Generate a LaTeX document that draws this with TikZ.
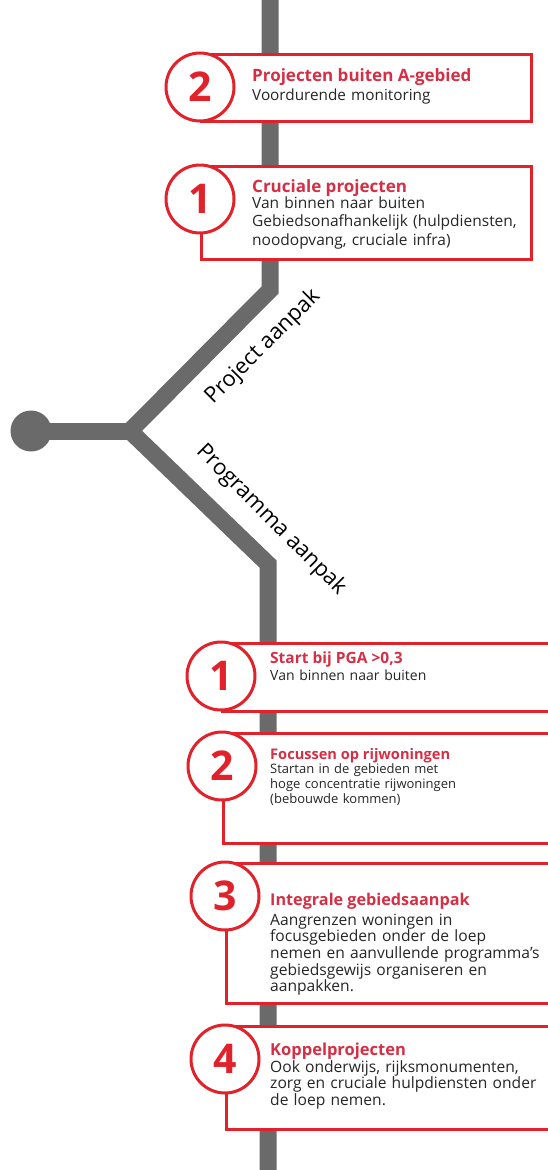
\documentclass[tikz,border=0pt]{standalone}
\usepackage{fontspec}
\setmainfont{Open Sans}
\usetikzlibrary{positioning, calc}
\definecolor{trackGray}{HTML}{6A6A6A}
\definecolor{boxRed}{HTML}{E2222B}
\definecolor{headRed}{HTML}{D62F45}
\definecolor{bodyInk}{HTML}{262626}

\begin{document}
\begin{tikzpicture}[x=1pt, y=-1pt,
track/.style={draw=trackGray, line width=17pt},
hub/.style={circle, fill=trackGray, minimum size=41pt, inner sep=0pt},
panel/.style={rectangle, draw=boxRed, line width=2.5pt, fill=white, anchor=north west, inner sep=0pt},
badge/.style={circle, draw=boxRed, line width=3pt, fill=white, minimum size=68pt, inner sep=0pt, text=boxRed, font=\bfseries\fontsize{41}{41}\selectfont},
head/.style={anchor=base west, inner sep=0pt, text=headRed, font=\bfseries\fontsize{#1}{#1}\selectfont},
body/.style 2 args={anchor=base west, inner sep=0pt, text=bodyInk, text width=290pt, align=left, font=\fontsize{#1}{#2}\selectfont},
lane/.style={inner sep=0pt, font=\fontsize{22}{22}\selectfont}
]
\useasboundingbox (0,0) rectangle (547,1170);

% track with the fork
\coordinate (top) at (270,-10);
\coordinate (bendA) at (270,290);
\coordinate (fork) at (130,431);
\coordinate (bendB) at (268,564);
\coordinate (bottom) at (268,1180);
\node[hub] (dot) at (31,431) {};
\draw[track] (top) -- (bendA) -- (fork) -- (bendB) -- (bottom);
\draw[track] (dot.center) -- (fork);

\node[lane, rotate=45] (lblP) at (263,347) {Project aanpak};
\node[lane, rotate=-45] (lblG) at (271,520) {Programma aanpak};

% project boxes
\node[panel, minimum width=330pt, minimum height=67pt] (boxA) at (200,53) {};
\node[badge] (nA) at ([yshift=-34pt]boxA.north west) {2};
\node[head=17] (hA) at (252,81) {Projecten buiten A-gebied};
\node[body={15.3}{18.3}] (bA) at (252,100) {Voordurende monitoring};

\node[panel, minimum width=330pt, minimum height=93pt] (boxB) at (200,165) {};
\node[badge] (nB) at ([yshift=-34pt]boxB.north west) {1};
\node[head=17] (hB) at (252,192) {Cruciale projecten};
\node[body={15.5}{18.5}] (bB) at (252,208) {Van binnen naar buiten\\Gebiedsonafhankelijk (hulpdiensten,\\noodopvang, cruciale infra)};

% programme boxes
\node[panel, minimum width=340pt, minimum height=68pt] (boxC) at (221,642) {};
\node[badge] (nC) at ([yshift=-34pt]boxC.north west) {1};
\node[head=15.5] (hC) at (270,663) {Start bij PGA >0,3};
\node[body={14}{17}] (bC) at (270,680) {Van binnen naar buiten};

\node[panel, minimum width=340pt, minimum height=110pt] (boxD) at (222,732) {};
\node[badge] (nD) at ([yshift=-34pt]boxD.north west) {2};
\node[head=14.6] (hD) at (270,759) {Focussen op rijwoningen};
\node[body={13}{15}] (bD) at (270,773) {Startan in de gebieden met\\hoge concentratie rijwoningen\\(bebouwde kommen)};

\node[panel, minimum width=340pt, minimum height=140pt] (boxE) at (225,862) {};
\node[badge] (nE) at ([yshift=-34pt]boxE.north west) {3};
\node[head=16.2] (hE) at (270,905) {Integrale gebiedsaanpak};
\node[body={15.6}{16.7}] (bE) at (270,925) {Aangrenzen woningen in\\focusgebieden onder de loep\\nemen en aanvullende programma's\\gebiedsgewijs organiseren en\\aanpakken.};

\node[panel, minimum width=340pt, minimum height=103pt] (boxF) at (225,1025) {};
\node[badge] (nF) at ([yshift=-34pt]boxF.north west) {4};
\node[head=16.5] (hF) at (270,1055) {Koppelprojecten};
\node[body={15.6}{16.7}] (bF) at (270,1072) {Ook onderwijs, rijksmonumenten,\\zorg en cruciale hulpdiensten onder\\de loep nemen.};
\end{tikzpicture}
\end{document}
